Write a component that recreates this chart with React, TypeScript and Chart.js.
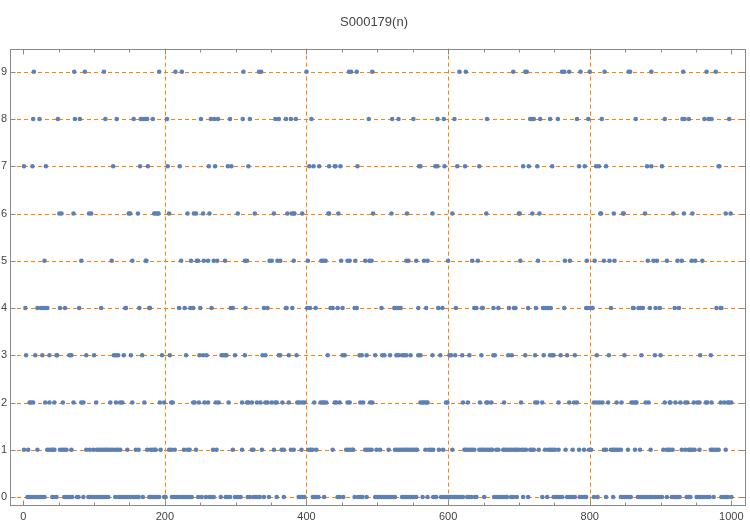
import { useEffect, useRef } from 'react';
import { Chart, registerables } from 'chart.js';

Chart.register(...registerables);

const TITLE = 'S000179(n)';
const X_TICKS = [0, 200, 400, 600, 800, 1000];
const X_GRID = [200, 400, 600, 800];
const Y_TICKS = [0, 1, 2, 3, 4, 5, 6, 7, 8, 9];

// n positions where the value equals each digit
const nAtDigit9 = [15, 72, 87, 114, 192, 215, 224, 311, 333, 336, 400, 460, 463, 471, 493, 616, 625, 692, 709, 711, 761, 764, 771, 787, 800, 821, 855, 857, 887, 932, 965, 978];
const nAtDigit8 = [14, 23, 49, 73, 80, 116, 132, 156, 166, 169, 172, 175, 183, 203, 251, 265, 270, 275, 292, 310, 320, 356, 361, 371, 378, 385, 407, 488, 521, 530, 551, 585, 594, 609, 655, 716, 718, 721, 730, 744, 755, 782, 798, 817, 865, 906, 931, 934, 940, 962, 968, 972, 997];
const nAtDigit7 = [1, 13, 32, 127, 165, 176, 204, 221, 262, 271, 289, 294, 318, 404, 410, 418, 432, 440, 441, 448, 472, 559, 561, 582, 585, 595, 613, 624, 644, 706, 714, 726, 747, 785, 793, 809, 813, 823, 881, 887, 902, 982, 983];
const nAtDigit6 = [51, 54, 71, 93, 96, 149, 151, 162, 185, 187, 190, 191, 206, 232, 241, 244, 254, 263, 303, 327, 354, 373, 379, 382, 383, 394, 431, 432, 445, 494, 520, 542, 578, 606, 654, 700, 701, 719, 729, 815, 816, 834, 847, 848, 878, 918, 933, 945, 992, 999];
const nAtDigit5 = [30, 82, 125, 154, 173, 174, 223, 237, 245, 247, 255, 261, 269, 274, 285, 313, 316, 348, 351, 359, 363, 382, 402, 421, 424, 427, 449, 458, 461, 469, 483, 489, 492, 541, 544, 555, 566, 571, 600, 634, 642, 702, 727, 765, 772, 796, 807, 820, 828, 835, 882, 890, 895, 909, 924, 930, 944, 949, 959];
const nAtDigit4 = [3, 20, 25, 28, 31, 34, 52, 59, 79, 110, 144, 145, 164, 178, 179, 220, 228, 236, 240, 250, 266, 293, 296, 314, 340, 345, 371, 372, 380, 401, 405, 413, 434, 437, 444, 451, 468, 471, 506, 524, 527, 530, 533, 558, 569, 586, 592, 611, 637, 640, 648, 649, 664, 671, 686, 693, 695, 713, 724, 734, 737, 740, 742, 745, 764, 795, 797, 801, 803, 804, 830, 861, 862, 869, 872, 875, 885, 893, 899, 920, 926, 979, 985, 986];
const nAtDigit3 = [4, 17, 27, 37, 47, 48, 65, 68, 89, 100, 128, 131, 134, 142, 152, 168, 196, 207, 230, 249, 254, 259, 280, 283, 286, 287, 299, 313, 338, 342, 361, 363, 375, 386, 430, 451, 454, 475, 478, 485, 497, 507, 510, 518, 527, 530, 535, 538, 541, 547, 558, 561, 578, 589, 602, 604, 610, 620, 630, 647, 664, 666, 685, 690, 709, 723, 735, 744, 747, 749, 759, 768, 779, 810, 827, 849, 873, 892, 900, 956, 971];
const nAtDigit2 = [9, 11, 14, 31, 37, 44, 56, 71, 82, 85, 103, 123, 131, 137, 140, 154, 171, 193, 199, 209, 211, 240, 242, 248, 256, 261, 272, 276, 290, 309, 316, 318, 323, 330, 335, 342, 345, 351, 356, 358, 366, 375, 387, 390, 394, 397, 411, 420, 423, 425, 428, 440, 442, 447, 458, 461, 476, 480, 490, 493, 561, 564, 566, 569, 571, 597, 599, 621, 628, 645, 654, 656, 661, 679, 703, 723, 726, 733, 756, 771, 778, 782, 806, 810, 814, 818, 826, 838, 845, 859, 862, 865, 866, 879, 883, 906, 913, 914, 921, 928, 935, 938, 947, 952, 955, 964, 966, 972, 985, 990, 995, 997, 1000];
const nAtDigit1 = [1, 7, 20, 34, 37, 40, 42, 44, 52, 55, 58, 61, 68, 89, 94, 99, 104, 107, 110, 113, 116, 118, 121, 124, 127, 131, 134, 137, 147, 159, 163, 175, 180, 183, 186, 187, 194, 206, 209, 214, 227, 232, 235, 244, 268, 273, 296, 309, 323, 325, 337, 354, 365, 368, 378, 382, 393, 403, 406, 409, 414, 437, 456, 459, 462, 465, 466, 483, 486, 489, 492, 499, 504, 516, 525, 528, 531, 534, 537, 540, 542, 545, 548, 551, 554, 556, 568, 573, 576, 579, 587, 593, 606, 623, 625, 628, 631, 634, 637, 644, 647, 649, 652, 655, 658, 661, 662, 668, 671, 678, 680, 683, 686, 689, 692, 695, 697, 700, 704, 707, 710, 716, 718, 721, 728, 737, 742, 745, 748, 751, 756, 766, 776, 785, 792, 799, 802, 820, 823, 830, 833, 835, 838, 841, 844, 854, 864, 871, 886, 904, 909, 911, 914, 917, 930, 935, 940, 942, 945, 948, 955, 971, 973, 976, 979, 982, 992];
const nAtDigit0 = [6, 9, 11, 14, 18, 21, 24, 27, 30, 41, 44, 47, 58, 61, 63, 66, 69, 76, 78, 85, 92, 94, 97, 100, 103, 106, 109, 111, 114, 117, 120, 130, 135, 138, 141, 144, 147, 149, 152, 155, 158, 161, 163, 169, 178, 180, 183, 186, 189, 192, 199, 200, 201, 210, 213, 216, 218, 221, 224, 227, 230, 232, 235, 238, 247, 252, 258, 263, 266, 269, 279, 286, 289, 292, 299, 302, 304, 307, 317, 320, 325, 328, 331, 334, 340, 347, 358, 368, 389, 392, 394, 397, 409, 411, 414, 417, 425, 444, 447, 452, 468, 473, 476, 479, 485, 497, 500, 503, 506, 509, 511, 514, 517, 520, 523, 525, 535, 538, 541, 544, 547, 549, 552, 555, 564, 571, 579, 582, 583, 590, 593, 596, 599, 602, 604, 607, 610, 613, 616, 618, 621, 627, 630, 633, 638, 640, 651, 665, 668, 671, 673, 676, 679, 682, 683, 689, 692, 697, 706, 713, 733, 740, 749, 752, 755, 758, 761, 768, 771, 773, 776, 779, 786, 789, 792, 795, 806, 811, 823, 833, 844, 847, 849, 852, 855, 858, 868, 871, 873, 876, 879, 882, 885, 887, 890, 893, 896, 899, 902, 909, 916, 918, 921, 924, 927, 937, 940, 942, 951, 954, 956, 959, 962, 966, 969, 975, 986, 989, 992, 995, 1000];

const DIGIT_ROWS = [nAtDigit0, nAtDigit1, nAtDigit2, nAtDigit3, nAtDigit4, nAtDigit5, nAtDigit6, nAtDigit7, nAtDigit8, nAtDigit9];

const GRID_COLOR = '#FF8000';
const FRAME_COLOR = '#8a8a8a';
const TEXT_COLOR = '#444444';
const POINT_COLOR = '#5E81B5';
const FONT = '"Liberation Sans", Arial, sans-serif';

const framePlugin = {
  id: 'mmaFrame',
  beforeDatasetsDraw(chart: any) {
    const { ctx, chartArea: a, scales } = chart;
    const xs = scales.x;
    const ys = scales.y;
    ctx.save();
    ctx.strokeStyle = GRID_COLOR;
    ctx.lineWidth = 1;
    ctx.setLineDash([4, 3]);
    for (const v of Y_TICKS) {
      const y = Math.round(ys.getPixelForValue(v)) + 0.5;
      ctx.beginPath();
      ctx.moveTo(a.left, y);
      ctx.lineTo(a.right, y);
      ctx.stroke();
    }
    for (const v of X_GRID) {
      const x = Math.round(xs.getPixelForValue(v)) + 0.5;
      ctx.beginPath();
      ctx.moveTo(x, a.top);
      ctx.lineTo(x, a.bottom);
      ctx.stroke();
    }
    ctx.restore();
  },
  afterDatasetsDraw(chart: any) {
    const { ctx, chartArea: a, scales } = chart;
    const xs = scales.x;
    const ys = scales.y;
    ctx.save();
    ctx.strokeStyle = FRAME_COLOR;
    ctx.lineWidth = 1;
    ctx.setLineDash([]);
    const L = Math.round(a.left) + 0.5;
    const R = Math.round(a.right) - 0.5;
    const T = Math.round(a.top) + 0.5;
    const B = Math.round(a.bottom) - 0.5;
    ctx.strokeRect(L, T, R - L, B - T);
    ctx.beginPath();
    for (let v = 0; v <= 1000; v += 50) {
      const x = Math.round(xs.getPixelForValue(v)) + 0.5;
      const len = X_TICKS.includes(v) ? 5 : 3;
      ctx.moveTo(x, B);
      ctx.lineTo(x, B - len);
      ctx.moveTo(x, T);
      ctx.lineTo(x, T + len);
    }
    for (const v of Y_TICKS) {
      const y = Math.round(ys.getPixelForValue(v)) + 0.5;
      ctx.moveTo(L, y);
      ctx.lineTo(L + 5, y);
      ctx.moveTo(R, y);
      ctx.lineTo(R - 5, y);
    }
    ctx.stroke();
    ctx.restore();
  },
};

export default function App() {
  const ref = useRef<HTMLCanvasElement | null>(null);

  useEffect(() => {
    if (!ref.current) return;
    const points = DIGIT_ROWS.flatMap((ns, digit) => ns.map((n) => ({ x: n, y: digit })));
    const chart = new Chart(ref.current, {
      type: 'scatter',
      data: {
        datasets: [
          {
            label: TITLE,
            data: points,
            pointRadius: 2.3,
            pointBackgroundColor: POINT_COLOR,
            pointBorderWidth: 0,
            borderWidth: 0,
          },
        ],
      },
      options: {
        animation: false,
        responsive: false,
        layout: { padding: { left: 0, right: 2, top: 0, bottom: 0 } },
        plugins: {
          legend: { display: false },
          tooltip: { enabled: false },
          title: {
            display: true,
            text: TITLE,
            color: TEXT_COLOR,
            font: { family: FONT, size: 13, weight: 'normal' },
            padding: { top: 15, bottom: 18 },
          },
        },
        scales: {
          x: {
            type: 'linear',
            min: -18.7,
            max: 1020.7,
            afterBuildTicks: (s: any) => {
              s.ticks = X_TICKS.map((v) => ({ value: v }));
            },
            afterFit: (s: any) => {
              s.height = 18;
            },
            grid: { display: false, drawTicks: false },
            border: { display: false },
            ticks: {
              color: TEXT_COLOR,
              font: { family: FONT, size: 11 },
              padding: 4,
              maxRotation: 0,
              autoSkip: false,
              callback: (v: any) => String(v),
            },
          },
          y: {
            type: 'linear',
            min: -0.19,
            max: 9.49,
            afterBuildTicks: (s: any) => {
              s.ticks = Y_TICKS.map((v) => ({ value: v }));
            },
            afterFit: (s: any) => {
              s.width = 10;
            },
            grid: { display: false, drawTicks: false },
            border: { display: false },
            ticks: {
              color: TEXT_COLOR,
              font: { family: FONT, size: 11 },
              padding: 3,
              autoSkip: false,
              callback: (v: any) => String(v),
            },
          },
        },
      },
      plugins: [framePlugin],
    });
    return () => chart.destroy();
  }, []);

  return (
    <div style={{ position: 'fixed', left: 0, top: 0, width: 750, height: 524, background: '#fff' }}>
      <canvas ref={ref} width={750} height={524} style={{ display: 'block' }} />
    </div>
  );
}
